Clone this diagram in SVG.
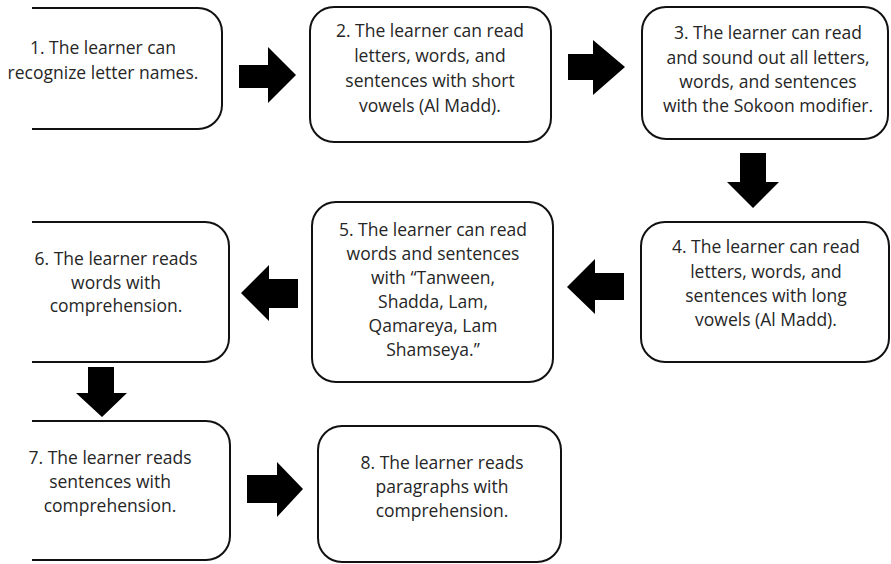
<svg xmlns="http://www.w3.org/2000/svg" width="891" height="564" viewBox="0 0 891 564">
<style>
.box{fill:#fff;stroke:#111;stroke-width:2}
.t{font-family:"Open Sans","Noto Sans",sans-serif;font-size:17.5px;fill:#262626;text-anchor:middle}
.arr{fill:#000}
</style>
<rect width="891" height="564" fill="#fff"/>
<g id="node1">
<path class="box" d="M32,8 H198 A24,24 0 0 1 222,32 V105 A24,24 0 0 1 198,129 H32"/>
<text class="t" x="103" y="54">1. The learner can</text>
<text class="t" x="103" y="79">recognize letter names.</text>
</g>
<g id="node2">
<rect class="box" x="310" y="7" width="241" height="135" rx="24"/>
<text class="t" x="430" y="37">2. The learner can read</text>
<text class="t" x="430" y="62">letters, words, and</text>
<text class="t" x="430" y="87">sentences with short</text>
<text class="t" x="430" y="112">vowels (Al Madd).</text>
</g>
<g id="node3">
<rect class="box" x="642" y="7" width="246" height="132" rx="24"/>
<text class="t" x="768" y="39">3. The learner can read</text>
<text class="t" x="768" y="64">and sound out all letters,</text>
<text class="t" x="768" y="88">words, and sentences</text>
<text class="t" x="768" y="112">with the Sokoon modifier.</text>
</g>
<g id="node4">
<rect class="box" x="641" y="222" width="248" height="140" rx="24"/>
<text class="t" x="766" y="253">4. The learner can read</text>
<text class="t" x="766" y="278">letters, words, and</text>
<text class="t" x="766" y="302">sentences with long</text>
<text class="t" x="766" y="326">vowels (Al Madd).</text>
</g>
<g id="node5">
<rect class="box" x="312" y="202" width="241" height="180" rx="24"/>
<text class="t" x="433" y="236">5. The learner can read</text>
<text class="t" x="433" y="260">words and sentences</text>
<text class="t" x="433" y="284">with “Tanween,</text>
<text class="t" x="433" y="308">Shadda, Lam,</text>
<text class="t" x="433" y="332">Qamareya, Lam</text>
<text class="t" x="433" y="356">Shamseya.”</text>
</g>
<g id="node6">
<path class="box" d="M32,222 H205 A24,24 0 0 1 229,246 V338 A24,24 0 0 1 205,362 H32"/>
<text class="t" x="116" y="265">6. The learner reads</text>
<text class="t" x="116" y="289">words with</text>
<text class="t" x="116" y="312">comprehension.</text>
</g>
<g id="node7">
<path class="box" d="M32,421 H206 A24,24 0 0 1 230,445 V536 A24,24 0 0 1 206,560 H32"/>
<text class="t" x="110" y="464">7. The learner reads</text>
<text class="t" x="110" y="488">sentences with</text>
<text class="t" x="110" y="512">comprehension.</text>
</g>
<g id="node8">
<rect class="box" x="318" y="426" width="243" height="136" rx="24"/>
<text class="t" x="442" y="469">8. The learner reads</text>
<text class="t" x="442" y="493">paragraphs with</text>
<text class="t" x="442" y="517">comprehension.</text>
</g>
<g id="connectors">
<polygon class="arr" points="239,65 268,65 268,47 296,75 268,103 268,88 239,88"/>
<polygon class="arr" points="568,54 593,54 593,40 625,67 593,95 593,80 568,80"/>
<polygon class="arr" points="740,153 766,153 766,182 779,182 753,208 727,182 740,182"/>
<polygon class="arr" points="624,273 595,273 595,259 567,287 595,314 595,300 624,300"/>
<polygon class="arr" points="298,279 269,279 269,265 241,293 269,321 269,308 298,308"/>
<polygon class="arr" points="88,367 114,367 114,393 127,393 102,417 76,393 88,393"/>
<polygon class="arr" points="247,475 277,475 277,462 303,489 277,517 277,503 247,503"/>
</g>
</svg>
